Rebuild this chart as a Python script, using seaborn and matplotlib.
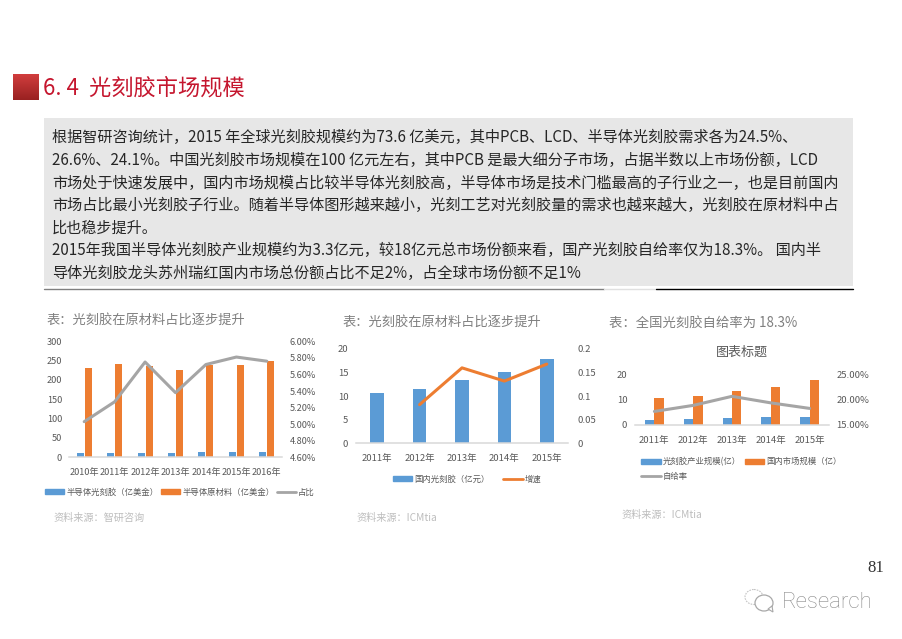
import numpy as np
import pandas as pd
import matplotlib
matplotlib.use("Agg")
import matplotlib.pyplot as plt
from matplotlib.patches import Patch, Ellipse, Polygon
from matplotlib.lines import Line2D
from matplotlib.ticker import FuncFormatter
import seaborn as sns

# -------------------------
# Data
# -------------------------
years_a = ['2010年', '2011年', '2012年', '2013年', '2014年', '2015年', '2016年']
resist_a = [10, 11, 12, 10, 13, 13, 14]
material_a = [230, 241, 235, 225, 239, 240, 248]
share_a = [5.03, 5.27, 5.75, 5.38, 5.72, 5.81, 5.76]

years_b = ['2011年', '2012年', '2013年', '2014年', '2015年']
domestic_b = [10.7, 11.6, 13.5, 15.2, 17.8]
growth_b = [np.nan, 0.082, 0.16, 0.132, 0.168]

years_c = ['2011年', '2012年', '2013年', '2014年', '2015年']
industry_c = [2.0, 2.2, 2.8, 3.0, 3.3]
market_c = [10.8, 11.7, 13.5, 15.2, 18.0]
selfrate_c = [17.7, 18.9, 20.7, 19.4, 18.3]

body_lines = [
    '根据智研咨询统计，2015 年全球光刻胶规模约为73.6 亿美元，其中PCB、LCD、半导体光刻胶需求各为24.5%、',
    '26.6%、24.1%。中国光刻胶市场规模在100 亿元左右，其中PCB 是最大细分子市场，占据半数以上市场份额，LCD',
    '市场处于快速发展中，国内市场规模占比较半导体光刻胶高，半导体市场是技术门槛最高的子行业之一，也是目前国内',
    '市场占比最小光刻胶子行业。随着半导体图形越来越小，光刻工艺对光刻胶量的需求也越来越大，光刻胶在原材料中占',
    '比也稳步提升。',
    '2015年我国半导体光刻胶产业规模约为3.3亿元，较18亿元总市场份额来看，国产光刻胶自给率仅为18.3%。 国内半',
    '导体光刻胶龙头苏州瑞红国内市场总份额占比不足2%，占全球市场份额不足1%',
]
body_y = [137, 160, 183, 205, 228, 250, 273]

# -------------------------
# Setup
# -------------------------
sns.set_style("white")
plt.rcParams['font.family'] = ['Noto Sans CJK SC', 'DejaVu Sans']

BLUE = '#5b9bd5'
ORANGE = '#ed7d31'
GREY = '#a5a5a5'
TICK = '#595959'
W, H = 903, 639

fig = plt.figure(figsize=(W / 100, H / 100), dpi=100, facecolor='white')

# page layer in pixel coordinates
page = fig.add_axes([0, 0, 1, 1])
page.set_xlim(0, W)
page.set_ylim(H, 0)
page.axis('off')


def px_axes(left, top, right, bottom):
    return fig.add_axes([left / W, 1 - bottom / H, (right - left) / W, (bottom - top) / H],
                        facecolor='none')


def combo(rect, years, bars, line, line_name, colors, line_color, width, gap,
          ylim, yticks, rlim, rticks, rfmt, lpad, rpad, xpad, size):
    ax = px_axes(*rect)
    df = pd.DataFrame({'year': np.tile(years, len(bars)),
                       'value': np.concatenate([b for b in bars.values()]),
                       'series': np.repeat(list(bars.keys()), len(years))})
    if len(bars) > 1:
        sns.barplot(data=df, x='year', y='value', hue='series', palette=colors,
                    width=width, gap=gap, saturation=1, linewidth=0, legend=False, ax=ax)
    else:
        sns.barplot(data=df, x='year', y='value', color=colors[0],
                    width=width, saturation=1, linewidth=0, ax=ax)
    ax.set_xlim(-0.5, len(years) - 0.5)
    ax.set_ylim(*ylim)
    ax.set_yticks(yticks)
    ax.set_xlabel('')
    ax.set_ylabel('')

    ax2 = ax.twinx()
    ax2.patch.set_alpha(0)
    sns.lineplot(x=list(range(len(years))), y=line, color=line_color, linewidth=2.2,
                 errorbar=None, ax=ax2)
    ax2.set_ylim(*rlim)
    ax2.set_yticks(rticks)
    ax2.yaxis.set_major_formatter(FuncFormatter(rfmt))
    ax2.set_ylabel('')

    for a in (ax, ax2):
        for s in a.spines.values():
            s.set_visible(False)
        a.tick_params(length=0, labelsize=size, labelcolor=TICK)
    ax.spines['bottom'].set_visible(True)
    ax.spines['bottom'].set_color('#d9d9d9')
    ax.spines['bottom'].set_linewidth(1.1)
    ax.tick_params(axis='y', pad=lpad)
    ax.tick_params(axis='x', pad=xpad)
    ax2.tick_params(axis='y', pad=rpad)
    return ax, ax2


def put_legend(ax, handles, ncol, cx, cy, colspace):
    ax.legend(handles=handles, ncol=ncol, loc='center', frameon=False,
              bbox_to_anchor=(cx / W, 1 - cy / H), bbox_transform=fig.transFigure,
              fontsize=6, labelcolor=TICK, handlelength=2.3, handleheight=0.55,
              handletextpad=0.25, columnspacing=colspace, labelspacing=0.75,
              borderpad=0, borderaxespad=0)


# -------------------------
# Chart 1
# -------------------------
ax, ax2 = combo((69, 341.3, 282, 457.3), years_a,
                {'半导体光刻胶（亿美金）': resist_a, '半导体原材料（亿美金）': material_a},
                share_a, '占比', [BLUE, ORANGE], GREY, 0.53, 0.13,
                (0, 300), [0, 50, 100, 150, 200, 250, 300],
                (4.6, 6.0), [4.6, 4.8, 5.0, 5.2, 5.4, 5.6, 5.8, 6.0],
                lambda v, p: f'{v:.2f}%', 5, 5.5, 7.5, 6.6)
put_legend(ax2, [Patch(color=BLUE, label='半导体光刻胶（亿美金）'),
                 Patch(color=ORANGE, label='半导体原材料（亿美金）'),
                 Line2D([], [], color=GREY, lw=2, label='占比')],
           3, 180, 492, 0.3)

# -------------------------
# Chart 2
# -------------------------
ax, ax2 = combo((356, 349, 568, 443.3), years_b, {'国内光刻胶（亿元）': domestic_b},
                growth_b, '增速', [BLUE], ORANGE, 0.32, 0,
                (0, 20), [0, 5, 10, 15, 20],
                (0, 0.2), [0, 0.05, 0.1, 0.15, 0.2],
                lambda v, p: f'{v:g}', 5.5, 6.5, 8, 6.8)
put_legend(ax2, [Patch(color=BLUE, label='国内光刻胶（亿元）'),
                 Line2D([], [], color=ORANGE, lw=2, label='增速')],
           2, 467, 479, 1.7)

# -------------------------
# Chart 3
# -------------------------
ax, ax2 = combo((635, 374.7, 829, 425), years_c,
                {'光刻胶产业规模(亿）': industry_c, '国内市场规模（亿）': market_c},
                selfrate_c, '自给率', [BLUE, ORANGE], GREY, 0.48, 0,
                (0, 20), [0, 10, 20],
                (15, 25), [15, 20, 25],
                lambda v, p: f'{v:.2f}%', 5.5, 5.5, 8, 6.8)
put_legend(ax2, [Patch(color=BLUE, label='光刻胶产业规模(亿）'),
                 Line2D([], [], color=GREY, lw=2, label='自给率'),
                 Patch(color=ORANGE, label='国内市场规模（亿）')],
           2, 741.5, 469, 0.5)

# -------------------------
# Page furniture
# -------------------------
grad = np.linspace(0, 1, 64)[:, None, None] * (np.array([0.60, 0.13, 0.13]) - np.array([0.82, 0.24, 0.24])) \
    + np.array([0.82, 0.24, 0.24])
page.imshow(grad, extent=(13, 39, 100, 74), aspect='auto', zorder=1)
page.set_xlim(0, W)
page.set_ylim(H, 0)

page.text(43, 88, '6. 4  光刻胶市场规模', color='#c5162e', fontsize=16, va='center', ha='left')

page.fill_between([44, 853], 118, 286, color='#e7e7e7', lw=0, zorder=1)
page.plot([44, 604], [289, 289], color='#808080', lw=1, zorder=1)
page.plot([604, 656], [289, 289], color='#e0e0e0', lw=1, zorder=1)
page.plot([656, 853], [289, 289], color='#000000', lw=1, zorder=1)

for line, y in zip(body_lines, body_y):
    page.text(52, y, line, color='#262626', fontsize=10.9, va='center', ha='left', zorder=2)

page.text(47, 320, '表：光刻胶在原材料占比逐步提升', color='#7f7f7f', fontsize=9.5, va='center')
page.text(343, 322, '表：光刻胶在原材料占比逐步提升', color='#7f7f7f', fontsize=9.5, va='center')
page.text(609, 323, '表：全国光刻胶自给率为 18.3%', color='#7f7f7f', fontsize=9.6, va='center')
page.text(742, 352, '图表标题', color=TICK, fontsize=9.4, va='center', ha='center')

page.text(53, 517.5, '资料来源：智研咨询', color='#bdbdbd', fontsize=7.3, va='center')
page.text(356, 517.5, '资料来源：ICMtia', color='#bdbdbd', fontsize=7.3, va='center')
page.text(621, 514.5, '资料来源：ICMtia', color='#bdbdbd', fontsize=7.3, va='center')

page.text(875.5, 568, '81', color='#333333', fontsize=12, va='center', ha='center',
          family='Liberation Serif')
page.text(782, 602, 'Research', color='#8a8a8a', fontsize=16, va='center', ha='left',
          family='Roboto', weight='light')

# wechat style bubbles of the watermark
page.add_patch(Ellipse((754, 597), 18, 15, fill=False, ec='#c4c4c4', lw=0.8, ls=(0, (1.5, 1))))
page.add_patch(Ellipse((764, 603), 18, 16, fc='white', ec='#a8a8a8', lw=0.9))
page.add_patch(Polygon([[768, 609], [773, 612], [772, 606]], closed=True, fc='white', ec='#a8a8a8', lw=0.8))

fig.savefig('out.png', dpi=100)
